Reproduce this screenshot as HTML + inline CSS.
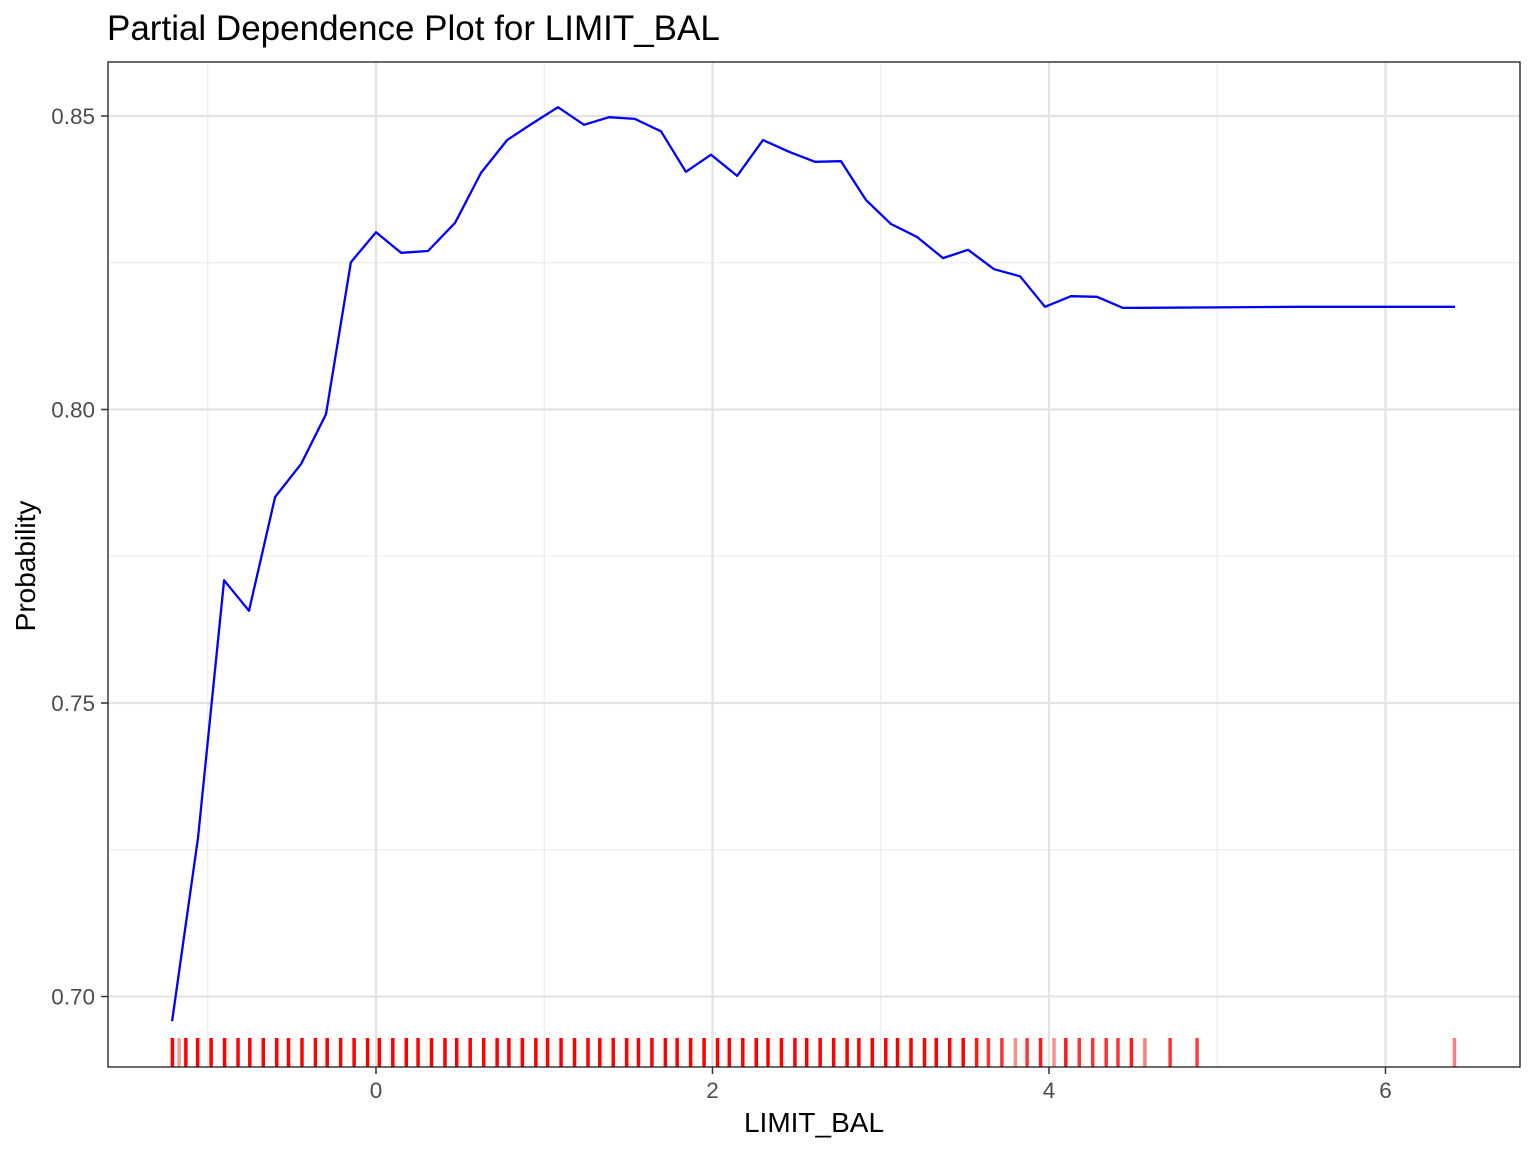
<!DOCTYPE html>
<html><head><meta charset="utf-8"><style>
html,body{margin:0;padding:0;background:#fff;}
svg{display:block;font-family:"Liberation Sans",Arial,sans-serif;}
</style></head><body>
<svg id="chart" width="1536" height="1152" viewBox="0 0 1536 1152" xmlns="http://www.w3.org/2000/svg">
<text x="107" y="40" font-size="35" fill="#000">Partial Dependence Plot for LIMIT_BAL</text>
<g id="grid"></g>
<g id="rug"></g>
<path id="line" fill="none" stroke="#0000ff" stroke-width="2.3" stroke-linejoin="round"/>
<rect x="108" y="62" width="1412" height="1005" fill="none" stroke="#1a1a1a" stroke-width="1.3"/>
<g id="axes"></g>
<text x="814" y="1132" font-size="28" text-anchor="middle" fill="#000">LIMIT_BAL</text>
<text transform="translate(35,566) rotate(-90)" font-size="28" text-anchor="middle" fill="#000">Probability</text>
</svg>
<script>
const xVals=[-1.212,-1.058,-0.903,-0.755,-0.600,-0.446,-0.297,-0.149,0,0.149,0.309,0.470,0.624,0.779,0.933,1.082,1.236,1.385,1.539,1.694,1.842,1.991,2.146,2.300,2.455,2.609,2.764,2.912,3.061,3.215,3.370,3.519,3.673,3.828,3.976,4.131,4.285,4.440,5.0,5.5,6.0,6.413];
const yVals=[0.6958,0.7270,0.7709,0.7657,0.7851,0.7907,0.7992,0.8251,0.8302,0.8267,0.8270,0.8318,0.8403,0.8459,0.8488,0.8515,0.8485,0.8498,0.8495,0.8474,0.8405,0.8434,0.8398,0.8459,0.8439,0.8422,0.8423,0.8357,0.8316,0.8294,0.8258,0.8272,0.8239,0.8227,0.8175,0.8193,0.8192,0.8173,0.8174,0.8175,0.8175,0.8175];
const rugX=[-1.21,-1.17,-1.13,-1.06,-0.98,-0.90,-0.82,-0.75,-0.67,-0.59,-0.52,-0.44,-0.36,-0.29,-0.21,-0.13,-0.05,0.02,0.10,0.18,0.25,0.33,0.41,0.48,0.56,0.64,0.72,0.79,0.87,0.95,1.02,1.10,1.18,1.26,1.33,1.41,1.49,1.56,1.64,1.72,1.79,1.87,1.95,2.03,2.10,2.18,2.26,2.33,2.41,2.49,2.56,2.64,2.72,2.80,2.87,2.95,3.03,3.10,3.18,3.26,3.33,3.41,3.49,3.57,3.64,3.72,3.80,3.87,3.95,4.03,4.10,4.18,4.26,4.34,4.41,4.49,4.57,4.72,4.88,6.41];
const rugAlpha=[1,0.4,1,1,1,1,1,1,1,1,1,1,1,1,1,1,1,1,1,1,1,1,1,1,1,1,1,1,1,1,1,1,1,1,1,1,1,1,1,1,1,1,1,1,1,1,1,1,1,1,1,1,1,1,1,1,1,1,1,1,1,1,1,0.9,0.8,0.8,0.45,0.8,0.9,0.45,0.9,0.8,0.8,0.8,0.8,0.9,0.5,0.8,0.75,0.5];
const xTicks=[0,2,4,6];
const xMinor=[-1,1,3,5];
const yTicks=[0.70,0.75,0.80,0.85];
const yMinor=[0.725,0.775,0.825];
const yTickLabels=["0.70","0.75","0.80","0.85"];

const NS="http://www.w3.org/2000/svg";
const L=108,R=1520,T=62,B=1067;
function sx(v){return 376+v*168.25;}
function sy(v){return 116+(0.85-v)*5870;}
function mk(tag,attrs,parent){const e=document.createElementNS(NS,tag);for(const k in attrs)e.setAttribute(k,attrs[k]);parent.appendChild(e);return e;}
const grid=document.getElementById('grid'),axes=document.getElementById('axes'),rug=document.getElementById('rug');
yMinor.forEach(v=>{const e=mk('line',{x1:L,x2:R,y1:sy(v),y2:sy(v),stroke:'#ebebeb','stroke-width':1.1},grid);

});
xMinor.forEach(v=>{const e=mk('line',{x1:sx(v),x2:sx(v),y1:T,y2:B,stroke:'#ebebeb','stroke-width':1.1},grid);

});
yTicks.forEach((v,i)=>{const e=mk('line',{x1:L,x2:R,y1:sy(v),y2:sy(v),stroke:'#e3e3e3','stroke-width':2.2},grid);


const t=mk('line',{x1:L-7,x2:L,y1:sy(v),y2:sy(v),stroke:'#333','stroke-width':1.5},axes);


const lb=mk('text',{x:L-13,y:sy(v)+8,'font-size':22.5,fill:'#4d4d4d','text-anchor':'end'},axes);lb.textContent=yTickLabels[i];

});
xTicks.forEach(v=>{const e=mk('line',{x1:sx(v),x2:sx(v),y1:T,y2:B,stroke:'#e3e3e3','stroke-width':2.2},grid);


const t=mk('line',{x1:sx(v),x2:sx(v),y1:B,y2:B+7,stroke:'#333','stroke-width':1.5},axes);


const lb=mk('text',{x:sx(v),y:B+31,'font-size':22.5,fill:'#4d4d4d','text-anchor':'middle'},axes);lb.textContent=String(v);

});
rugX.forEach((v,i)=>{const e=mk('line',{x1:sx(v),x2:sx(v),y1:1038,y2:B,stroke:'#ff0000','stroke-width':3.5,'stroke-opacity':rugAlpha[i]},rug);

});
document.getElementById('line').setAttribute('d',xVals.map((v,i)=>(i?'L':'M')+sx(v).toFixed(1)+','+sy(yVals[i]).toFixed(1)).join(' '));
</script>
</body></html>
